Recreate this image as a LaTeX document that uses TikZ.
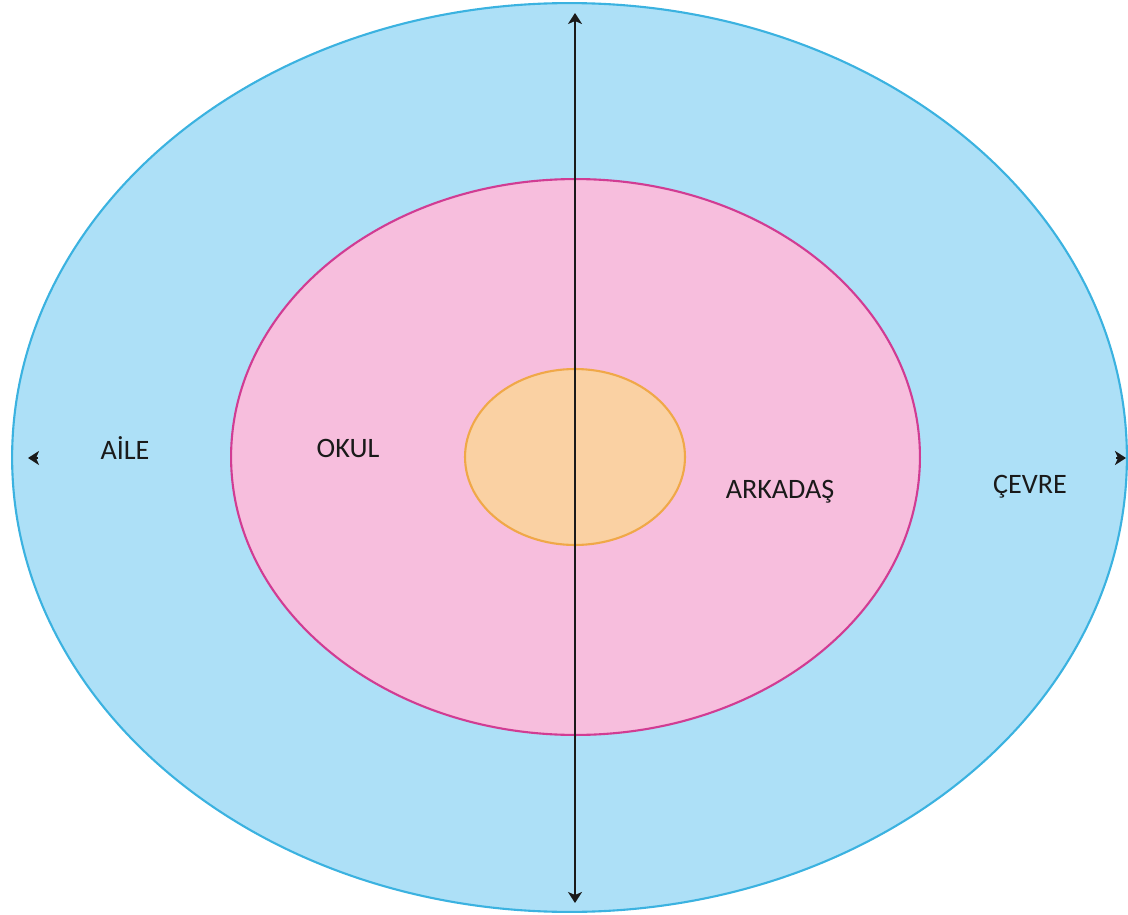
\documentclass[tikz,border=0pt]{standalone}
\usepackage{fontspec}
\setmainfont{Carlito}
\usetikzlibrary{arrows.meta,shapes.geometric}
\definecolor{SkyFill}{HTML}{ADE0F7}
\definecolor{SkyLine}{HTML}{3BB2E0}
\definecolor{RoseFill}{HTML}{F7BEDD}
\definecolor{RoseLine}{HTML}{D13C93}
\definecolor{PeachFill}{HTML}{FAD1A3}
\definecolor{PeachLine}{HTML}{F0A848}
\definecolor{Ink}{HTML}{1A1A1A}

\begin{document}
\begin{tikzpicture}[
  x=0.02cm,y=-0.02cm,
  zone/.style={ellipse,inner sep=0pt,line width=1.2pt},
  outer/.style={zone,draw=SkyLine,fill=SkyFill,minimum width=22.3cm,minimum height=18.18cm},
  middle/.style={zone,draw=RoseLine,fill=RoseFill,minimum width=13.78cm,minimum height=11.12cm},
  core/.style={zone,draw=PeachLine,fill=PeachFill,minimum width=4.4cm,minimum height=3.52cm},
  lbl/.style={font=\fontsize{16}{19}\selectfont,text=Ink},
  arr/.style={{Stealth[length=2.2mm,width=2.8mm,inset=0.6mm]}-{Stealth[length=2.2mm,width=2.8mm,inset=0.6mm]},draw=Ink,line width=1.1pt},
  tip/.style={-{Stealth[length=2.2mm,width=2.8mm,inset=0.6mm]},draw=Ink,line width=1.1pt}
]
\useasboundingbox (0,0) rectangle (1128,915);
\node[outer] (cevre) at (569.5,457.5) {};
\node[middle] (okul) at (575.5,457) {};
\node[core] (ben) at (575,457) {};
% axis ends
\coordinate (top) at (575,13);
\coordinate (bot) at (575,903);
\coordinate (lft) at (28,458);
\coordinate (lfs) at (38,458);
\coordinate (rgt) at (1126,458);
\coordinate (rgs) at (1116,458);
\draw[arr] (bot)--(top);
\draw[tip] (lfs)--(lft); \draw[tip] (rgs)--(rgt);
\node[lbl] (aile) at (125,448) {AİLE};
\node[lbl] (okt) at (348,448) {OKUL};
\node[lbl] (ark) at (780,492) {ARKADAŞ};
\node[lbl] (cvt) at (1030,487) {ÇEVRE};
\end{tikzpicture}
\end{document}
